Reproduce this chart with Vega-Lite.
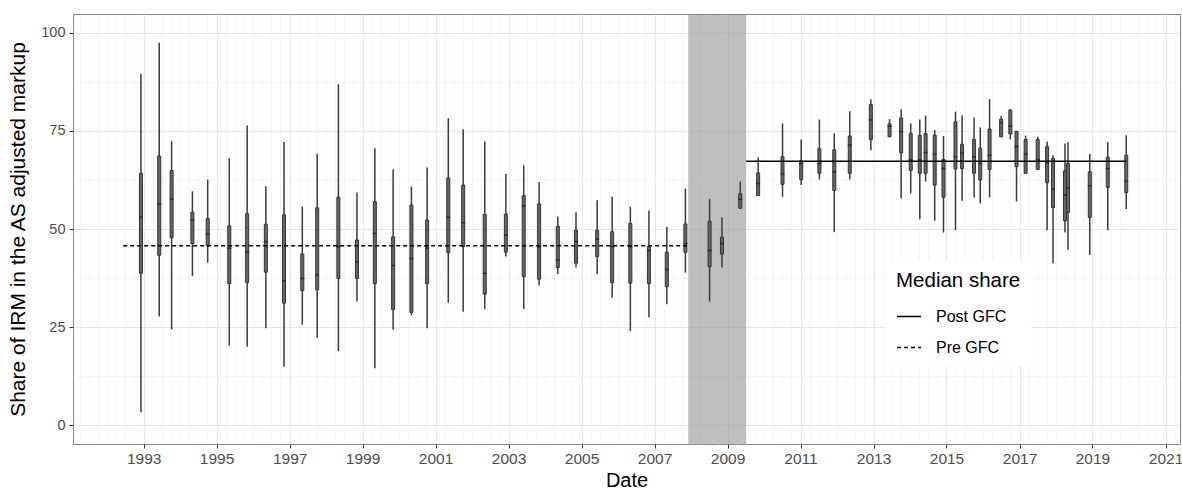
{
  "$schema": "https://vega.github.io/schema/vega-lite/v6.json",
  "width": 1107,
  "height": 430,
  "autosize": {"type": "none"},
  "padding": {"left": 73, "top": 14, "right": 2, "bottom": 46},
  "background": "white",
  "config": {
    "font": "Liberation Sans",
    "view": {"stroke": "#8a8a8a", "strokeWidth": 1}
  },
  "datasets": {
    "boxes": [
      {"date": "1992-12-05", "lo": 3.3, "q1": 38.7, "med": 53.0, "q3": 64.2, "hi": 89.5},
      {"date": "1993-06-06", "lo": 27.7, "q1": 43.3, "med": 56.4, "q3": 68.6, "hi": 97.5},
      {"date": "1993-10-08", "lo": 24.4, "q1": 47.8, "med": 57.6, "q3": 64.9, "hi": 72.4},
      {"date": "1994-05-04", "lo": 38.0, "q1": 46.3, "med": 52.3, "q3": 54.3, "hi": 59.6},
      {"date": "1994-10-04", "lo": 41.4, "q1": 45.7, "med": 48.7, "q3": 52.7, "hi": 62.6},
      {"date": "1995-05-08", "lo": 20.3, "q1": 36.1, "med": 45.1, "q3": 50.8, "hi": 68.0},
      {"date": "1995-11-03", "lo": 20.0, "q1": 36.3, "med": 44.1, "q3": 53.9, "hi": 76.4},
      {"date": "1996-05-08", "lo": 24.7, "q1": 39.0, "med": 46.8, "q3": 51.2, "hi": 60.9},
      {"date": "1996-11-06", "lo": 14.9, "q1": 31.1, "med": 36.8, "q3": 53.6, "hi": 72.2},
      {"date": "1997-05-08", "lo": 25.6, "q1": 34.3, "med": 37.4, "q3": 43.6, "hi": 55.7},
      {"date": "1997-10-04", "lo": 22.3, "q1": 34.5, "med": 38.3, "q3": 55.4, "hi": 69.2},
      {"date": "1998-05-04", "lo": 18.9, "q1": 37.4, "med": 45.5, "q3": 58.1, "hi": 86.9},
      {"date": "1998-11-06", "lo": 31.5, "q1": 37.4, "med": 41.6, "q3": 47.2, "hi": 59.3},
      {"date": "1999-05-04", "lo": 14.5, "q1": 36.1, "med": 48.9, "q3": 57.0, "hi": 70.6},
      {"date": "1999-11-03", "lo": 24.3, "q1": 29.5, "med": 40.7, "q3": 48.0, "hi": 65.2},
      {"date": "2000-05-04", "lo": 28.0, "q1": 28.7, "med": 42.5, "q3": 56.1, "hi": 60.8},
      {"date": "2000-10-08", "lo": 24.7, "q1": 36.1, "med": 45.1, "q3": 52.3, "hi": 65.7},
      {"date": "2001-05-08", "lo": 31.2, "q1": 44.0, "med": 53.0, "q3": 63.0, "hi": 78.2},
      {"date": "2001-10-04", "lo": 28.9, "q1": 45.5, "med": 51.6, "q3": 61.2, "hi": 75.4},
      {"date": "2002-05-08", "lo": 29.6, "q1": 33.4, "med": 38.7, "q3": 53.7, "hi": 72.3},
      {"date": "2002-12-05", "lo": 43.0, "q1": 44.1, "med": 48.5, "q3": 53.8, "hi": 64.0},
      {"date": "2003-06-02", "lo": 29.6, "q1": 37.9, "med": 55.9, "q3": 58.5, "hi": 66.2},
      {"date": "2003-11-03", "lo": 35.6, "q1": 37.2, "med": 45.5, "q3": 56.4, "hi": 62.0},
      {"date": "2004-05-08", "lo": 38.5, "q1": 40.2, "med": 42.1, "q3": 50.7, "hi": 53.2},
      {"date": "2004-11-06", "lo": 40.2, "q1": 41.3, "med": 46.8, "q3": 49.7, "hi": 54.3},
      {"date": "2005-06-06", "lo": 38.5, "q1": 43.0, "med": 47.4, "q3": 49.7, "hi": 57.3},
      {"date": "2005-11-03", "lo": 32.5, "q1": 36.3, "med": 45.5, "q3": 49.3, "hi": 58.3},
      {"date": "2006-05-04", "lo": 23.9, "q1": 36.2, "med": 45.5, "q3": 51.4, "hi": 55.7},
      {"date": "2006-11-06", "lo": 27.5, "q1": 36.1, "med": 44.5, "q3": 45.5, "hi": 54.7},
      {"date": "2007-05-04", "lo": 30.8, "q1": 35.3, "med": 39.7, "q3": 44.1, "hi": 50.6},
      {"date": "2007-11-06", "lo": 38.9, "q1": 44.1, "med": 46.3, "q3": 51.3, "hi": 60.3},
      {"date": "2008-07-05", "lo": 31.5, "q1": 40.4, "med": 44.5, "q3": 52.0, "hi": 57.6},
      {"date": "2008-11-06", "lo": 40.2, "q1": 43.6, "med": 46.3, "q3": 47.9, "hi": 52.9},
      {"date": "2009-05-08", "lo": 55.1, "q1": 55.3, "med": 57.6, "q3": 59.0, "hi": 62.1},
      {"date": "2009-11-03", "lo": 58.4, "q1": 58.5, "med": 61.6, "q3": 64.3, "hi": 68.3},
      {"date": "2010-07-05", "lo": 58.2, "q1": 61.4, "med": 64.0, "q3": 68.4, "hi": 76.9},
      {"date": "2011-01-08", "lo": 61.2, "q1": 62.6, "med": 66.7, "q3": 67.4, "hi": 72.8},
      {"date": "2011-07-09", "lo": 62.6, "q1": 64.2, "med": 66.7, "q3": 70.5, "hi": 77.9},
      {"date": "2011-12-05", "lo": 49.2, "q1": 59.8, "med": 64.6, "q3": 70.2, "hi": 74.4},
      {"date": "2012-05-08", "lo": 62.6, "q1": 64.2, "med": 71.4, "q3": 73.7, "hi": 80.0},
      {"date": "2012-12-05", "lo": 70.1, "q1": 72.8, "med": 77.8, "q3": 81.7, "hi": 83.1},
      {"date": "2013-06-10", "lo": 73.4, "q1": 73.5, "med": 76.2, "q3": 76.8, "hi": 78.0},
      {"date": "2013-10-04", "lo": 57.8, "q1": 69.4, "med": 74.8, "q3": 78.3, "hi": 80.5},
      {"date": "2014-01-08", "lo": 59.1, "q1": 64.9, "med": 67.7, "q3": 74.4, "hi": 76.9},
      {"date": "2014-04-09", "lo": 52.5, "q1": 64.2, "med": 67.6, "q3": 73.8, "hi": 77.9},
      {"date": "2014-06-06", "lo": 62.1, "q1": 64.2, "med": 69.5, "q3": 74.3, "hi": 78.9},
      {"date": "2014-09-05", "lo": 52.1, "q1": 61.2, "med": 69.1, "q3": 73.9, "hi": 75.2},
      {"date": "2014-12-02", "lo": 49.1, "q1": 58.1, "med": 65.4, "q3": 67.7, "hi": 73.7},
      {"date": "2015-04-01", "lo": 49.7, "q1": 65.3, "med": 68.4, "q3": 77.3, "hi": 79.9},
      {"date": "2015-06-06", "lo": 57.2, "q1": 65.4, "med": 69.3, "q3": 71.6, "hi": 79.0},
      {"date": "2015-10-04", "lo": 58.0, "q1": 64.2, "med": 68.4, "q3": 72.8, "hi": 78.4},
      {"date": "2015-12-05", "lo": 56.5, "q1": 62.5, "med": 66.7, "q3": 70.6, "hi": 75.9},
      {"date": "2016-03-07", "lo": 58.1, "q1": 65.2, "med": 68.8, "q3": 75.5, "hi": 83.1},
      {"date": "2016-07-01", "lo": 73.4, "q1": 73.5, "med": 77.1, "q3": 78.0, "hi": 78.8},
      {"date": "2016-10-01", "lo": 72.8, "q1": 74.2, "med": 76.2, "q3": 80.3, "hi": 80.5},
      {"date": "2016-12-02", "lo": 57.0, "q1": 65.9, "med": 71.0, "q3": 74.9, "hi": 75.0},
      {"date": "2017-03-03", "lo": 64.2, "q1": 64.2, "med": 69.1, "q3": 72.8, "hi": 73.8},
      {"date": "2017-07-02", "lo": 65.0, "q1": 65.2, "med": 67.7, "q3": 72.8, "hi": 73.5},
      {"date": "2017-10-04", "lo": 49.7, "q1": 61.8, "med": 66.9, "q3": 71.0, "hi": 72.3},
      {"date": "2017-12-02", "lo": 41.3, "q1": 55.5, "med": 60.2, "q3": 68.0, "hi": 68.8},
      {"date": "2018-04-01", "lo": 49.1, "q1": 52.1, "med": 58.7, "q3": 64.8, "hi": 71.8},
      {"date": "2018-05-01", "lo": 44.7, "q1": 54.2, "med": 60.4, "q3": 66.7, "hi": 72.2},
      {"date": "2018-12-05", "lo": 43.4, "q1": 52.9, "med": 61.0, "q3": 64.6, "hi": 69.1},
      {"date": "2019-06-03", "lo": 49.7, "q1": 60.6, "med": 65.4, "q3": 68.3, "hi": 72.2},
      {"date": "2019-12-05", "lo": 55.1, "q1": 59.3, "med": 62.2, "q3": 68.8, "hi": 73.9}
    ],
    "gfc": [
      {"date": "2007-12-05", "date_end": "2009-07-05"}
    ],
    "medians": [
      {"date": "1992-06-10", "value": 45.7, "group": "Pre GFC"},
      {"date": "2007-11-22", "value": 45.7, "group": "Pre GFC"},
      {"date": "2009-07-05", "value": 67.3, "group": "Post GFC"},
      {"date": "2019-12-05", "value": 67.3, "group": "Post GFC"}
    ]
  },
  "encoding": {
    "x": {
      "field": "date",
      "type": "temporal",
      "scale": {
        "domain": [{"year": 1991, "month": "jan", "date": 25}, {"year": 2021, "month": "may", "date": 26}],
        "nice": false,
        "padding": 0
      },
      "axis": {
        "title": "Date",
        "titleFontSize": 20,
        "titleFontWeight": "normal",
        "titleColor": "black",
        "titlePadding": 4,
        "tickCount": {"interval": "month", "step": 3},
        "labelExpr": "month(datum.value) == 0 && year(datum.value) % 2 == 1 ? timeFormat(datum.value, '%Y') : ''",
        "labelOverlap": false,
        "labelFlush": false,
        "labelFontSize": 15.5,
        "labelColor": "#4d4d4d",
        "labelPadding": 3,
        "domain": false,
        "tickColor": "#333333",
        "tickSize": {"condition": {"test": "month(datum.value) == 0 && year(datum.value) % 2 == 1", "value": 4}, "value": 0},
        "gridColor": {"condition": {"test": "month(datum.value) == 0 && year(datum.value) % 2 == 1", "value": "#e6e6e6"}, "value": "#efefef"},
        "gridWidth": {"condition": {"test": "month(datum.value) == 0 && year(datum.value) % 2 == 1", "value": 1.2}, "value": 0.7}
      }
    }
  },
  "layer": [
    {
      "data": {"name": "gfc"},
      "mark": {"type": "rect", "color": "#808080", "opacity": 0.5},
      "encoding": {
        "x2": {"field": "date_end"}
      }
    },
    {
      "data": {"name": "boxes"},
      "mark": {"type": "rule", "color": "#3a3a3a", "strokeWidth": 1.5},
      "encoding": {
        "y": {
          "field": "lo",
          "type": "quantitative",
          "scale": {"domain": [-4.8, 104.8], "nice": false, "zero": false},
          "axis": {
            "title": "Share of IRM in the AS adjusted markup",
            "titleFontSize": 21,
            "titleFontWeight": "normal",
            "titleColor": "black",
            "titlePadding": 12,
            "values": [0, 12.5, 25, 37.5, 50, 62.5, 75, 87.5, 100],
            "labelExpr": "datum.value % 25 == 0 ? datum.label : ''",
            "labelFontSize": 14.5,
            "labelColor": "#4d4d4d",
            "labelPadding": 4,
            "domain": false,
            "tickColor": "#333333",
            "tickSize": {"condition": {"test": "datum.value % 25 != 0", "value": 0}, "value": 4},
            "gridColor": {"condition": {"test": "datum.value % 25 != 0", "value": "#efefef"}, "value": "#e6e6e6"},
            "gridWidth": {"condition": {"test": "datum.value % 25 != 0", "value": 0.7}, "value": 1.2}
          }
        },
        "y2": {"field": "hi"}
      }
    },
    {
      "data": {"name": "boxes"},
      "mark": {"type": "bar", "size": 3, "fill": "#666666", "stroke": "#333333", "strokeWidth": 1},
      "encoding": {
        "y": {"field": "q1", "type": "quantitative", "scale": {"domain": [-4.8, 104.8], "nice": false, "zero": false}},
        "y2": {"field": "q3"}
      }
    },
    {
      "data": {"name": "boxes"},
      "mark": {"type": "tick", "orient": "horizontal", "color": "#1a1a1a", "size": 4, "thickness": 1.5},
      "encoding": {
        "y": {"field": "med", "type": "quantitative", "scale": {"domain": [-4.8, 104.8], "nice": false, "zero": false}}
      }
    },
    {
      "data": {"name": "medians"},
      "mark": {"type": "line", "color": "black", "strokeWidth": 1.5},
      "encoding": {
        "y": {"field": "value", "type": "quantitative", "scale": {"domain": [-4.8, 104.8], "nice": false, "zero": false}},
        "strokeDash": {
          "field": "group",
          "type": "nominal",
          "scale": {"domain": ["Post GFC", "Pre GFC"], "range": [[1, 0], [4, 3]]},
          "legend": {
            "title": "Median share",
            "orient": "none",
            "legendX": 813,
            "legendY": 247,
            "fillColor": "white",
            "padding": 10,
            "titleFontSize": 20.5,
            "titleFontWeight": "normal",
            "titleColor": "black",
            "titlePadding": 12,
            "labelFontSize": 16,
            "labelColor": "black",
            "labelOffset": 14,
            "symbolType": "stroke",
            "symbolSize": 576,
            "symbolStrokeWidth": 1.5,
            "symbolStrokeColor": "black",
            "rowPadding": 10
          }
        }
      }
    }
  ]
}
